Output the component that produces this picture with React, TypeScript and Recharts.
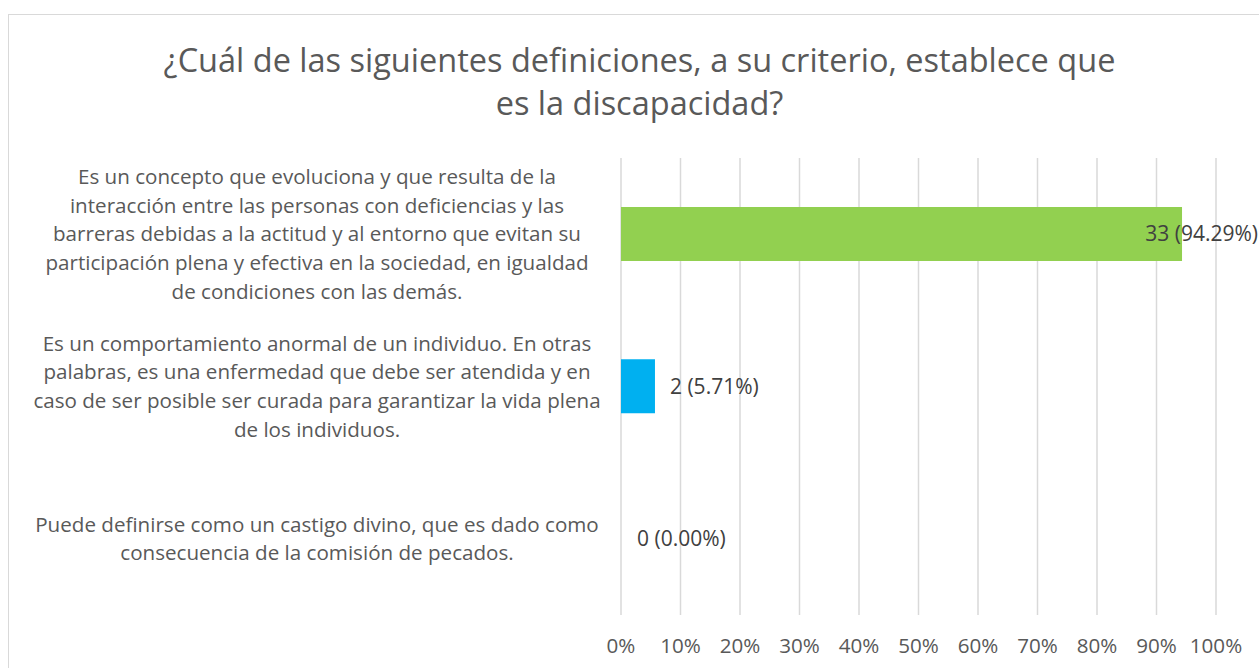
import { BarChart, Bar, XAxis, YAxis, CartesianGrid, Cell, LabelList } from "recharts";

const categoryLines = [
  [
    "Es un concepto que evoluciona y que resulta de la",
    "interacción entre las personas con deficiencias y las",
    "barreras debidas a la actitud y al entorno que evitan su",
    "participación plena y efectiva en la sociedad, en igualdad",
    "de condiciones con las demás.",
  ],
  [
    "Es un comportamiento anormal de un individuo. En otras",
    "palabras, es una enfermedad que debe ser atendida y en",
    "caso de ser posible ser curada para garantizar la vida plena",
    "de los individuos.",
  ],
  [
    "Puede definirse como un castigo divino, que es dado como",
    "consecuencia de la comisión de pecados.",
  ],
];
const counts = [33, 2, 0];
const percents = [94.29, 5.71, 0];
const barColors = ["#92D050", "#00B0F0", "transparent"];
const xTicks = [0, 10, 20, 30, 40, 50, 60, 70, 80, 90, 100];

const data = categoryLines.map((lines, i) => ({
  name: lines.join(" "),
  pct: percents[i],
  label: `${counts[i]} (${percents[i].toFixed(2)}%)`,
}));

const FONT = "'Open Sans', sans-serif";
const W = 1259;
const H = 668;

function CategoryTick(props: any) {
  const { y, payload } = props;
  const lines = categoryLines[payload.index] || [];
  const lh = 28.7;
  const y0 = y - ((lines.length - 1) * lh) / 2;
  return (
    <text textAnchor="middle" fill="#595959" fontSize={20.6} fontFamily={FONT}>
      {lines.map((l, i) => (
        <tspan key={i} x={317} y={y0 + i * lh} dy="0.35em">
          {l}
        </tspan>
      ))}
    </text>
  );
}

function ValueLabel(props: any) {
  const { x, y, width, height, value } = props;
  const end = x + width + 15;
  const est = String(value).length * 10.2;
  const clamp = end + est > W;
  return (
    <text
      x={clamp ? W - 1 : end}
      y={y + height / 2}
      dy="0.35em"
      textAnchor={clamp ? "end" : "start"}
      fill="#404040"
      fontSize={21}
      fontFamily={FONT}
    >
      {value}
    </text>
  );
}

export default function App() {
  return (
    <div
      style={{
        position: "fixed",
        left: 0,
        top: 0,
        width: W,
        height: H,
        overflow: "hidden",
        background: "#fff",
        fontFamily: FONT,
      }}
    >
      <div
        style={{
          position: "absolute",
          left: 8,
          top: 14,
          width: 1300,
          height: 700,
          border: "1px solid #d9d9d9",
        }}
      />
      <div
        style={{
          position: "absolute",
          left: 0,
          top: 38,
          width: 1279,
          textAlign: "center",
          color: "#595959",
          fontSize: 32.5,
          lineHeight: "43px",
        }}
      >
        ¿Cuál de las siguientes definiciones, a su criterio, establece que
        <br />
        es la discapacidad?
      </div>
      <div style={{ position: "absolute", left: 0, top: 0 }}>
        <BarChart
          width={W}
          height={H}
          data={data}
          layout="vertical"
          margin={{ top: 158, right: 43, bottom: 0, left: 0 }}
          barSize={54}
        >
          <CartesianGrid horizontal={false} stroke="#d9d9d9" strokeWidth={1.5} />
          <XAxis
            type="number"
            domain={[0, 100]}
            ticks={xTicks}
            tickFormatter={(v) => `${v}%`}
            axisLine={false}
            tickLine={false}
            height={53}
            tickMargin={17}
            interval={0}
            tick={{ fill: "#595959", fontSize: 20.6, fontFamily: FONT }}
          />
          <YAxis
            type="category"
            dataKey="name"
            width={621}
            axisLine={false}
            tickLine={false}
            tick={<CategoryTick />}
            interval={0}
          />
          <Bar dataKey="pct" isAnimationActive={false} minPointSize={1}>
            {data.map((d, i) => (
              <Cell key={i} fill={barColors[i]} />
            ))}
            <LabelList dataKey="label" content={<ValueLabel />} />
          </Bar>
        </BarChart>
      </div>
    </div>
  );
}
